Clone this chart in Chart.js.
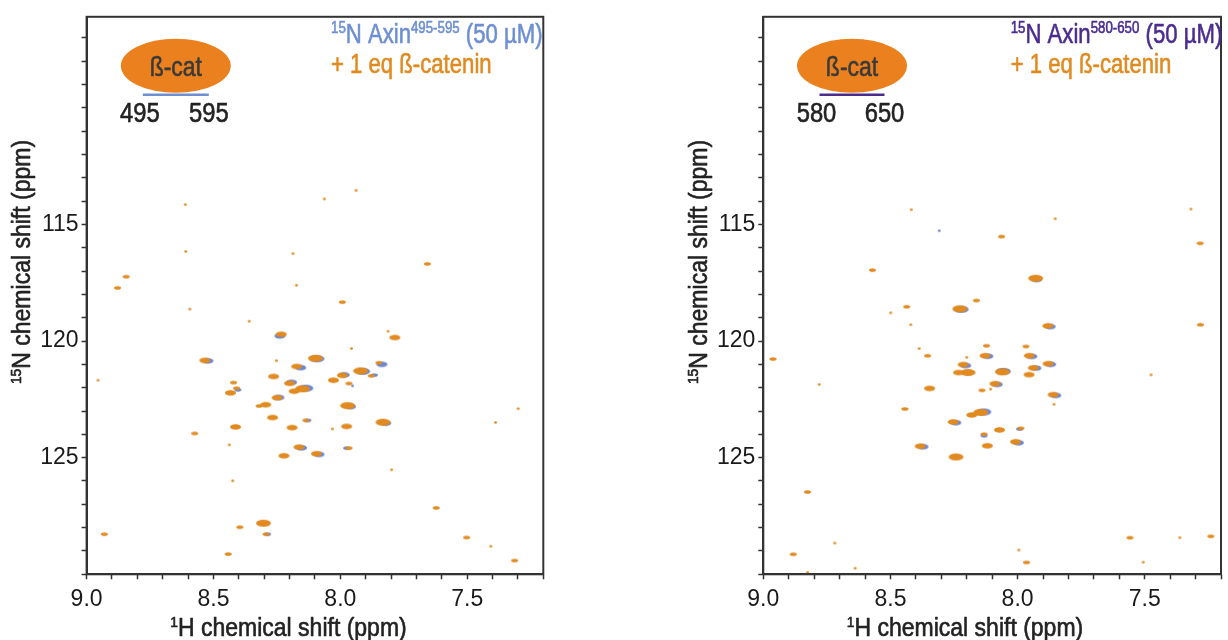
<!DOCTYPE html>
<html>
<head>
<meta charset="utf-8">
<script src="https://cdn.jsdelivr.net/npm/chart.js@4.4.0/dist/chart.umd.min.js"></script>
<style>
  html, body { margin: 0; padding: 0; background: #fff; }
  #wrap { position: relative; width: 1228px; height: 640px; }
  canvas { position: absolute; top: 0; }
</style>
</head>
<body>
<div id="wrap">
  <canvas id="left" width="614" height="640" style="left:0"></canvas>
  <canvas id="right" width="614" height="640" style="left:614px"></canvas>
</div>
<script>
// axis labels
const xMajorTicks = [9.0, 8.5, 8.0, 7.5];
const yMajorTicks = [115, 120, 125];

// Axin 495-595 + 1 eq beta-catenin (orange)
const boundH495 = [7.938, 8.063, 8.611, 8.609, 8.187, 7.657, 8.844, 8.878, 8.173, 8.593, 7.992, 8.359, 8.233, 7.812, 7.785, 7.956,
    8.534, 8.252, 8.098, 8.172, 7.848, 7.920, 8.263, 7.992, 7.878, 8.027, 8.955, 8.421, 8.200, 7.966, 8.409, 8.149, 8.182, 8.433,
    8.249, 8.294, 8.320, 7.971, 7.299, 8.267, 7.388, 7.832, 8.136, 8.413, 8.190, 7.975, 8.031, 8.574, 8.438, 8.163, 7.966, 8.222,
    8.094, 7.798, 8.424, 7.622, 8.930, 8.303, 8.396, 8.293, 7.502, 7.407, 8.442, 7.313];
const boundN495 = [113.54, 113.91, 114.15, 116.16, 116.25, 116.69, 117.24, 117.72, 117.61, 118.63, 118.33, 119.15, 119.71, 119.58, 119.85, 120.32,
    120.83, 120.84, 120.74, 121.09, 120.93, 121.28, 121.52, 121.47, 121.49, 121.68, 121.68, 121.78, 121.81, 121.82, 122.02, 122.05, 122.15, 122.22,
    122.43, 122.73, 122.78, 122.77, 122.90, 123.28, 123.49, 123.48, 123.40, 123.68, 123.71, 123.66, 123.77, 123.96, 124.45, 124.55, 124.59, 124.92,
    124.83, 125.52, 125.99, 127.15, 128.28, 127.81, 127.98, 128.28, 128.42, 128.80, 129.13, 129.41];
const boundI495 = [1, 1, 1, 1, 1, 2, 2, 2, 1, 1, 2, 1, 3, 1, 3, 1,
    3, 1, 4, 3, 2, 4, 3, 3, 2, 3, 1, 2, 3, 2, 2, 4, 3, 3,
    3, 3, 2, 4, 1, 3, 1, 4, 2, 3, 3, 3, 1, 2, 1, 3, 2, 3,
    3, 1, 1, 2, 2, 4, 2, 2, 2, 1, 2, 2];

// free Axin 495-595 (blue)
const freeH495 = [8.238, 8.522, 8.156, 7.836, 7.985, 7.866, 8.404, 8.136, 7.960, 7.821, 8.128, 8.153, 7.975, 8.084, 8.287, 7.952, 8.092, 7.912, 8.192, 8.242];
const freeN495 = [119.78, 120.85, 121.14, 121.00, 121.45, 121.46, 122.09, 122.02, 122.81, 123.52, 123.40, 124.58, 124.59, 124.86, 128.28, 121.92, 120.76, 121.30, 121.77, 122.42];
const freeI495 = [3, 3, 3, 3, 3, 2, 2, 4, 3, 3, 2, 3, 2, 3, 2, 1, 4, 4, 3, 3];

// Axin 580-650 + 1 eq beta-catenin (orange)
const boundH580 = [8.418, 7.318, 7.852, 8.063, 7.282, 8.571, 7.929, 8.162, 8.436, 8.499, 8.227, 8.420, 7.881, 7.281, 8.122, 7.967,
    8.387, 8.354, 8.200, 8.128, 7.954, 8.962, 8.214, 7.880, 7.938, 8.195, 8.232, 8.060, 7.955, 7.475, 8.780, 8.089, 8.346, 8.140,
    8.106, 7.860, 7.857, 8.443, 8.145, 8.180, 8.253, 8.071, 7.987, 8.132, 8.383, 8.119, 8.008, 8.242, 8.826, 8.719, 8.882, 7.995,
    7.558, 7.362, 7.240, 7.965, 7.506, 8.826, 8.639];
const boundN580 = [114.37, 114.34, 114.76, 115.52, 115.81, 116.96, 117.31, 118.26, 118.53, 118.79, 118.62, 119.30, 119.35, 119.30, 120.20, 120.23,
    120.32, 120.63, 120.70, 120.63, 120.63, 120.77, 121.01, 120.97, 121.15, 121.35, 121.35, 121.32, 121.44, 121.45, 121.86, 121.83, 122.03, 122.11,
    122.06, 122.30, 122.71, 122.91, 123.06, 123.17, 123.47, 123.81, 123.74, 123.99, 124.51, 124.49, 124.32, 124.97, 126.47, 128.66, 129.14, 128.96,
    128.43, 128.43, 128.37, 129.49, 129.48, 129.92, 129.74];
const boundI580 = [1, 1, 1, 2, 2, 2, 4, 2, 2, 1, 4, 1, 3, 2, 2, 2,
    1, 2, 1, 3, 3, 2, 3, 3, 3, 4, 3, 4, 3, 1, 1, 3, 3, 2,
    1, 3, 1, 2, 4, 3, 3, 3, 2, 2, 3, 3, 3, 4, 2, 1, 2, 1,
    2, 1, 2, 2, 1, 1, 1];

// free Axin 580-650 (blue)
const freeH580 = [8.308, 7.925, 7.872, 8.117, 7.944, 8.204, 7.870, 7.928, 8.056, 8.080, 7.850, 8.133, 8.243, 7.992, 8.132, 8.372, 7.997, 8.222];
const freeN580 = [115.27, 117.36, 119.38, 120.65, 120.66, 121.05, 121.00, 121.16, 121.30, 121.86, 122.33, 123.04, 123.50, 123.77, 124.06, 124.53, 124.36, 118.64];
const freeI580 = [1, 3, 3, 3, 3, 3, 3, 3, 4, 3, 3, 4, 3, 2, 2, 3, 3, 4];

const ORANGE = '#E08A1F';
const BLUE = '#6B87D3';
const FONT = '"Liberation Sans", Arial, Helvetica, sans-serif';

// ellipse sprites used as point styles, one per intensity level
const spotSize = { 1: [3, 2.4], 2: [7, 3.6], 3: [11, 5.5], 4: [15, 7] };
function makeSprites(color) {
    let out = {};
    for (let k in spotSize) {
        let [w, h] = spotSize[k];
        let c = document.createElement('canvas');
        c.width = Math.ceil(w) + 2;
        c.height = Math.ceil(h) + 2;
        let g = c.getContext('2d');
        g.fillStyle = color;
        g.beginPath();
        g.ellipse(c.width / 2, c.height / 2, w / 2, h / 2, 0, 0, Math.PI * 2);
        g.fill();
        out[k] = c;
    }
    return out;
}
const orangeSpots = makeSprites(ORANGE);
const blueSpots = makeSprites(BLUE);

function isMajor(list, v) {
    return list.some(m => Math.abs(m - v) < 1e-6);
}

// text with superscripts, squeezed horizontally like the figure's narrow font
function drawRich(ctx, parts, x, y, size, color, squeeze, align, angle) {
    ctx.save();
    ctx.translate(x, y);
    if (angle) ctx.rotate(angle);
    ctx.scale(squeeze, 1);
    ctx.fillStyle = color;
    ctx.strokeStyle = color;
    ctx.lineWidth = 0.6;
    ctx.lineJoin = 'round';
    ctx.textBaseline = 'alphabetic';
    ctx.textAlign = 'left';
    let total = 0;
    parts.forEach(p => {
        ctx.font = (p.sup ? size * 0.6 : size) + 'px ' + FONT;
        total += ctx.measureText(p.t).width;
    });
    let cx = align === 'center' ? -total / 2 : (align === 'right' ? -total : 0);
    parts.forEach(p => {
        ctx.font = (p.sup ? size * 0.6 : size) + 'px ' + FONT;
        let dy = p.sup ? -size * 0.36 : 0;
        ctx.fillText(p.t, cx, dy);
        ctx.strokeText(p.t, cx, dy);
        cx += ctx.measureText(p.t).width;
    });
    ctx.restore();
}

const decorPlugin = {
    id: 'nmrDecor',
    afterDraw(chart) {
        let P = chart.options.plugins.nmrDecor;
        let ctx = chart.ctx;
        let a = chart.chartArea;

        // frame
        ctx.save();
        ctx.strokeStyle = '#333';
        ctx.lineWidth = 2;
        ctx.strokeRect(a.left, a.top, a.right - a.left, a.bottom - a.top);
        ctx.restore();

        // axis titles
        drawRich(ctx, [{t: '1', sup: true}, {t: 'H chemical shift (ppm)'}],
            P.xTitleX, 636, 25, '#222', 0.92, 'center');
        drawRich(ctx, [{t: '15', sup: true}, {t: 'N chemical shift (ppm)'}],
            P.yTitleX, 262, 25, '#222', 0.92, 'center', -Math.PI / 2);

        // sample legend
        drawRich(ctx, [{t: '15', sup: true}, {t: 'N Axin'}, {t: P.range, sup: true}, {t: ' (50 µM)'}],
            a.left + P.legendX, a.top + 26, 27, P.color, 0.82, 'left');
        drawRich(ctx, [{t: '+ 1 eq ß-catenin'}],
            a.left + P.legendX, a.top + 56, 27, ORANGE, 0.82, 'left');

        // beta-catenin cartoon over the Axin fragment
        let ex = a.left + P.blobX, ey = a.top + 49;
        ctx.save();
        ctx.fillStyle = '#EA801E';
        ctx.beginPath();
        ctx.ellipse(ex, ey, 55, 27, 0, 0, Math.PI * 2);
        ctx.fill();
        ctx.strokeStyle = P.color;
        ctx.lineWidth = 2.5;
        ctx.beginPath();
        ctx.moveTo(ex - P.barHalf, a.top + 78);
        ctx.lineTo(ex + P.barHalf, a.top + 78);
        ctx.stroke();
        ctx.restore();
        drawRich(ctx, [{t: 'ß-cat'}], ex, ey + 10, 28, '#3a3a3a', 0.82, 'center');
        drawRich(ctx, [{t: P.ends[0]}], ex - P.barHalf - 3, a.top + 105, 27, '#222', 0.88, 'center');
        drawRich(ctx, [{t: P.ends[1]}], ex + P.barHalf, a.top + 105, 27, '#222', 0.88, 'center');
    }
};

function makeChart(id, bound, free, P) {
    let [bH, bN, bI] = bound;
    let [fH, fN, fI] = free;
    return new Chart(document.getElementById(id), {
        type: 'scatter',
        data: {
            datasets: [
                {
                    data: bH.map((h, i) => ({x: h, y: bN[i]})),
                    pointStyle: c => orangeSpots[bI[c.dataIndex]],
                    pointRadius: 3
                },
                {
                    data: fH.map((h, i) => ({x: h, y: fN[i]})),
                    pointStyle: c => blueSpots[fI[c.dataIndex]],
                    pointRadius: 3
                }
            ]
        },
        options: {
            responsive: false,
            animation: false,
            devicePixelRatio: 1,
            events: [],
            layout: {
                padding: P.padding
            },
            scales: {
                x: {
                    type: 'linear',
                    reverse: true,
                    min: 7.2,
                    max: 9.0,
                    afterFit: s => { s.height = 65.7; },
                    grid: { drawOnChartArea: false, tickLength: 5, tickColor: '#333', tickWidth: 1.5 },
                    border: { color: '#333', width: 2 },
                    ticks: {
                        stepSize: 0.1,
                        autoSkip: false,
                        maxRotation: 0,
                        minRotation: 0,
                        padding: 7,
                        color: '#1a1a1a',
                        font: { family: FONT, size: 23 },
                        callback: v => isMajor(xMajorTicks, v) ? v.toFixed(1) : ''
                    }
                },
                y: {
                    type: 'linear',
                    reverse: true,
                    min: 106.1,
                    max: 130,
                    afterFit: s => { s.width = P.yWidth; },
                    grid: { drawOnChartArea: false, tickLength: 5, tickColor: '#333', tickWidth: 1.5 },
                    border: { color: '#333', width: 2 },
                    ticks: {
                        stepSize: 1,
                        includeBounds: false,
                        autoSkip: false,
                        padding: 3,
                        color: '#1a1a1a',
                        font: { family: FONT, size: 23 },
                        callback: v => isMajor(yMajorTicks, v) ? String(v) : ''
                    }
                }
            },
            plugins: {
                legend: { display: false },
                tooltip: { enabled: false },
                nmrDecor: P
            }
        },
        plugins: [decorPlugin]
    });
}

makeChart('left', [boundH495, boundN495, boundI495], [freeH495, freeN495, freeI495], {
    padding: { left: 10, right: 70.7, top: 13, bottom: 0 },
    yWidth: 76.6,
    xTitleX: 288.5,
    yTitleX: 30,
    range: '495-595',
    color: '#6E8FD2',
    legendX: 244.4,
    blobX: 89.2,
    barHalf: 33,
    ends: ['495', '595']
});

makeChart('right', [boundH580, boundN580, boundI580], [freeH580, freeN580, freeI580], {
    padding: { left: 74, right: 6, top: 13, bottom: 0 },
    yWidth: 75.3,
    xTitleX: 351,
    yTitleX: 93,
    range: '580-650',
    color: '#4A2C8F',
    legendX: 247.4,
    blobX: 88.7,
    barHalf: 32.5,
    ends: ['580', '650']
});
</script>
</body>
</html>
